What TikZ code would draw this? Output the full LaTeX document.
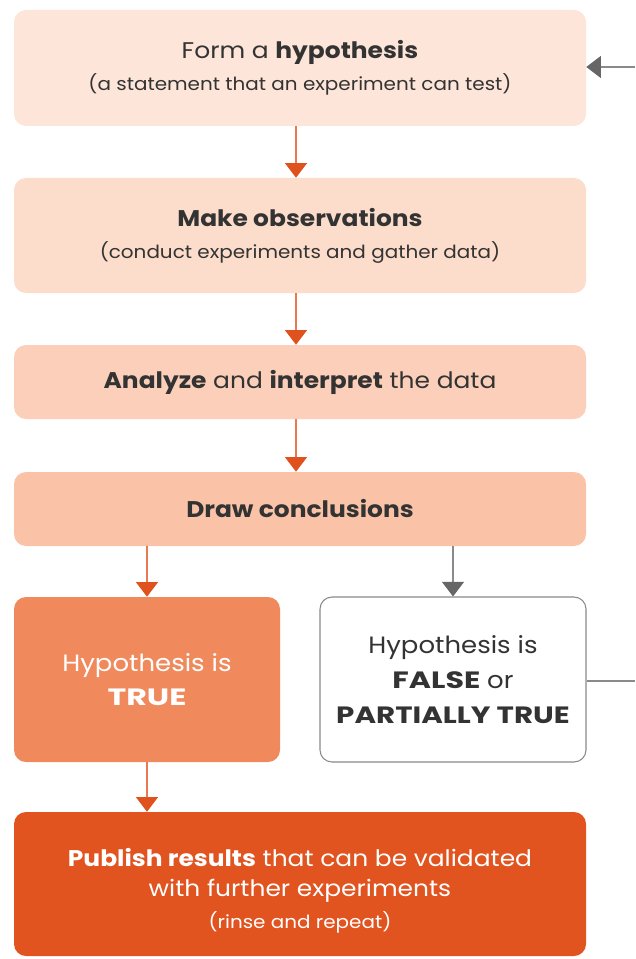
\documentclass[tikz,border=0pt]{standalone}
\usepackage{fontspec}
\usepackage{graphicx}
\setmainfont{Poppins}[FakeStretch=1.1]
\usetikzlibrary{arrows.meta}
\definecolor{txt}{HTML}{333333}
\definecolor{boxA}{HTML}{FDE6D9}
\definecolor{boxB}{HTML}{FCDCCA}
\definecolor{boxC}{HTML}{FBCFB9}
\definecolor{boxD}{HTML}{FAC3A7}
\definecolor{boxTrue}{HTML}{F08A5D}
\definecolor{boxPub}{HTML}{E1531F}
\definecolor{lineO}{HTML}{E9794F}
\definecolor{headO}{HTML}{E0521D}
\definecolor{lineG}{HTML}{8A8A8A}
\definecolor{headG}{HTML}{666666}
\newcommand{\subline}[1]{{\fontsize{13.6}{16}\selectfont #1}}
\newcommand{\capsb}[2]{\scalebox{#1}[1]{\textbf{#2}}}
\begin{document}
\begin{tikzpicture}[x=0.75pt,y=-0.75pt,
  box/.style={rounded corners=9pt,align=center,text=txt,inner sep=0pt},
  wide/.style={box,minimum width=429pt},
  half/.style={box,minimum width=199.5pt,minimum height=123.75pt},
  big/.style={font=\fontsize{17}{22}\selectfont},
  oarrow/.style={draw=lineO,line width=0.9pt,-{Triangle[width=16.5pt,length=11pt,fill=headO,color=headO]}},
  garrow/.style={draw=lineG,line width=0.9pt,-{Triangle[width=16.5pt,length=11pt,fill=headG,color=headG]}}]
\useasboundingbox[fill=white] (0,0) rectangle (635,959);

\node[wide,big,fill=boxA,minimum height=87pt] (hyp) at (300,68)
  {Form a \textbf{hypothesis}\\[2pt]
   \subline{(a statement that an experiment can test)}};
\node[wide,big,fill=boxB,minimum height=86.25pt] (obs) at (300,235.5)
  {\textbf{Make observations}\\[2pt]
   \subline{(conduct experiments and gather data)}};
\node[wide,big,fill=boxC,minimum height=55.5pt] (ana) at (300,382)
  {\textbf{Analyze} and \textbf{interpret} the data};
\node[wide,big,fill=boxD,minimum height=55.5pt] (con) at (300,509)
  {\textbf{Draw conclusions}};
\node[half,fill=boxTrue,text=white,font=\fontsize{17.7}{26}\selectfont] (tru) at (147,679.5)
  {Hypothesis is\\\capsb{1.22}{TRUE}};
\node[half,draw=lineG,line width=0.8pt,fill=white,font=\fontsize{17.7}{26}\selectfont] (fal) at (453,679.5)
  {Hypothesis is\\\capsb{1.16}{FALSE} or\\\capsb{1.13}{PARTIALLY TRUE}};
\node[wide,big,fill=boxPub,text=white,minimum height=108pt,font=\fontsize{17}{23}\selectfont] (pub) at (300,884)
  {\rule{0pt}{24pt}\textbf{Publish results} that can be validated\\
   with further experiments\\[1pt]
   \subline{(rinse and repeat)}};

\draw[oarrow] (hyp.south -| 296,0) -- (obs.north -| 296,0);
\draw[oarrow] (obs.south -| 296,0) -- (ana.north -| 296,0);
\draw[oarrow] (ana.south -| 296,0) -- (con.north -| 296,0);
\draw[oarrow] (con.south -| tru) -- (tru.north);
\draw[garrow] (con.south -| fal) -- (fal.north);
\draw[oarrow] (tru.south) -- (tru.south |- pub.north);

\coordinate (outA) at (635,681);
\coordinate (outB) at (635,67);
\draw[draw=lineG,line width=0.9pt] (fal.east |- outA) -- (outA);
\draw[garrow] (outB) -- (outB -| hyp.east);
\end{tikzpicture}
\end{document}
